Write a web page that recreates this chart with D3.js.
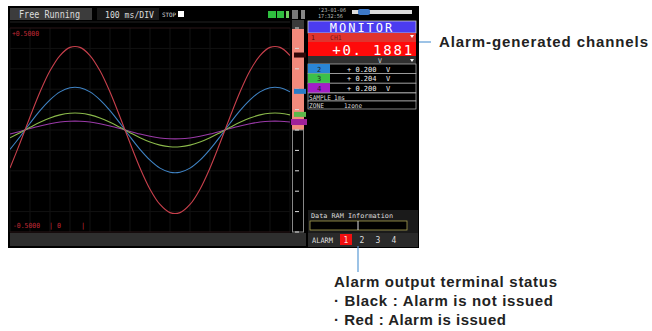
<!DOCTYPE html>
<head>
  <meta charset="utf-8">
  <script src="https://d3js.org/d3.v7.min.js"></script>
  <style>
    body { margin:0; background:#fff; }
    text { font-family: "DejaVu Sans Mono", monospace; white-space: pre; }
    .note { font-family: "Liberation Sans", Arial, sans-serif; font-weight:bold; fill:#222; }
  </style>
</head>
<body>
<script>

/* Data */
/* ==== */

// time in ms (100 ms/DIV, 14 divisions on screen)
var times = [0, 50, 100, 150, 200, 250, 300, 350, 400, 450, 500, 550, 600, 650, 700,
             750, 800, 850, 900, 950, 1000, 1050, 1100, 1150, 1200, 1250, 1300, 1350, 1400];

// waveform values in V
var ch1 = [-0.186, -0.064, 0.064, 0.186, 0.290, 0.365, 0.405, 0.405, 0.365, 0.290, 0.186, 0.064,
           -0.064, -0.186, -0.290, -0.365, -0.405, -0.405, -0.365, -0.290, -0.186, -0.064,
           0.064, 0.186, 0.290, 0.365, 0.405, 0.405, 0.365];
var ch2 = [-0.095, -0.033, 0.033, 0.095, 0.148, 0.187, 0.207, 0.207, 0.187, 0.148, 0.095, 0.033,
           -0.033, -0.095, -0.148, -0.187, -0.207, -0.207, -0.187, -0.148, -0.095, -0.033,
           0.033, 0.095, 0.148, 0.187, 0.207, 0.207, 0.187];
var ch3 = [-0.038, -0.013, 0.013, 0.038, 0.059, 0.074, 0.082, 0.082, 0.074, 0.059, 0.038, 0.013,
           -0.013, -0.038, -0.059, -0.074, -0.082, -0.082, -0.074, -0.059, -0.038, -0.013,
           0.013, 0.038, 0.059, 0.074, 0.082, 0.082, 0.074];
var ch4 = [-0.020, -0.007, 0.007, 0.020, 0.031, 0.039, 0.043, 0.043, 0.039, 0.031, 0.020, 0.007,
           -0.007, -0.020, -0.031, -0.039, -0.043, -0.043, -0.039, -0.031, -0.020, -0.007,
           0.007, 0.020, 0.031, 0.039, 0.043, 0.043, 0.039];

var series = [ch4, ch3, ch2, ch1];
var seriesColors = ['#9a3aa8', '#8ab84a', '#3f83c4', '#c8404c'];

// monitor panel
var monitorChannels = ['2', '3', '4'];
var monitorReadings = ['+ 0.200', '+ 0.204', '+ 0.200'];
var monitorColors = ['#2a86d6', '#3cc04a', '#a41ec8'];

// alarm output terminals
var alarmTerminals = ['1', '2', '3', '4'];
var alarmIssued = [true, false, false, false];


/* Set up */
/* ====== */

var width = 652,
    height = 331;

var svg = d3.select('body')
  .append('svg')
    .attr('width', width)
    .attr('height', height);

var x = d3.scaleLinear().domain([0, 1400]).range([10, 290]);
var y = d3.scaleLinear().domain([-0.5, 0.5]).range([232, 28]);

function lcdText(tx, ty, str, size, color, len) {
  var t = svg.append('text').attr('x', tx).attr('y', ty)
      .attr('fill', color).attr('font-size', size).text(str);
  if (len) t.attr('textLength', len).attr('lengthAdjust', 'spacingAndGlyphs');
  return t;
}

// screen background
svg.append('rect')
    .attr('x', 8).attr('y', 6)
    .attr('width', 411).attr('height', 242)
    .attr('fill', '#000');


/* Header */
/* ====== */

svg.append('rect').attr('x', 10).attr('y', 8).attr('width', 82).attr('height', 12).attr('fill', '#3c3c3c');
lcdText(19, 17.5, 'Free Running', 10, '#ddd', 61);

svg.append('rect').attr('x', 97).attr('y', 8).attr('width', 62).attr('height', 12).attr('fill', '#1a1a1a');
lcdText(105, 17.5, '100 ms/DIV', 9, '#ddd', 49);
lcdText(162, 17, 'STOP', 6, '#ddd', 14);
svg.append('rect').attr('x', 178).attr('y', 11).attr('width', 6).attr('height', 6).attr('fill', '#fff');

// status icons
[[268, 8, '#2fbf3f'], [277, 7, '#2fbf3f'], [286, 3, '#6fcf5f']].forEach(function(d) {
  svg.append('rect').attr('x', d[0]).attr('y', 11).attr('width', d[1]).attr('height', 7).attr('fill', d[2]);
});
svg.append('rect').attr('x', 292).attr('y', 10).attr('width', 6).attr('height', 9).attr('fill', '#777');
svg.append('rect').attr('x', 301).attr('y', 10).attr('width', 4).attr('height', 9).attr('fill', '#888');

// date / time and scroll bar
lcdText(318, 12, "'23-01-06", 5.5, '#bbb', 28);
lcdText(318, 18, '17:32:56', 5.5, '#bbb', 25);
svg.append('rect').attr('x', 352).attr('y', 10).attr('width', 60).attr('height', 4).attr('fill', '#ddd');
svg.append('rect').attr('x', 358).attr('y', 9).attr('width', 12).attr('height', 6).attr('rx', 2).attr('fill', '#3c78c8');


/* Plot area */
/* ========= */

var grid = svg.append('g');

grid.selectAll('.vgrid')
    .data(d3.range(0, 1401, 100))
  .enter().append('line')
    .attr('x1', function(d) { return x(d); })
    .attr('x2', function(d) { return x(d); })
    .attr('y1', y(0.5)).attr('y2', y(-0.5))
    .attr('stroke', '#121212');

grid.selectAll('.hgrid')
    .data(y.ticks(10))
  .enter().append('line')
    .attr('x1', x(0)).attr('x2', x(1400))
    .attr('y1', function(d) { return y(d); })
    .attr('y2', function(d) { return y(d); })
    .attr('stroke', function(d) { return Math.abs(d) === 0.5 ? '#2a1618' : '#121212'; });

svg.append('line').attr('x1', 10).attr('x2', 290).attr('y1', 22).attr('y2', 22).attr('stroke', '#222');

lcdText(12, 36, '+0.5000', 7, '#c02a36', 27);
lcdText(13, 228, '-0.5000', 7, '#c02a36', 27);
lcdText(49, 228, '| 0', 7, '#c02a36', 12);
lcdText(81, 228, '|', 7, '#c02a36');

svg.append('clipPath').attr('id', 'plotclip')
  .append('rect').attr('x', 10).attr('y', 23).attr('width', 280).attr('height', 210);

var line = d3.line()
    .x(function(d, i) { return x(times[i]); })
    .y(function(d) { return y(d); })
    .curve(d3.curveCatmullRom);

svg.append('g').attr('clip-path', 'url(#plotclip)')
  .selectAll('.wave')
    .data(series)
  .enter().append('path')
    .attr('d', line)
    .attr('fill', 'none')
    .attr('stroke', function(d, i) { return seriesColors[i]; })
    .attr('stroke-width', 1.1);

// bottom gray band
svg.append('rect').attr('x', 10).attr('y', 233).attr('width', 296).attr('height', 13).attr('fill', '#2e2e2e');


/* Scale bar */
/* ========= */

svg.append('rect').attr('x', 292).attr('y', 20).attr('width', 12).attr('height', 9).attr('fill', '#3a3a3a');
svg.append('rect').attr('x', 292).attr('y', 29).attr('width', 12).attr('height', y(0) - 29).attr('fill', '#f28a7c');
svg.append('rect').attr('x', 292.5).attr('y', y(0)).attr('width', 11).attr('height', y(-0.5) - y(0))
    .attr('fill', 'none').attr('stroke', '#888');
svg.selectAll('.btick')
    .data(y.ticks(10))
  .enter().append('line')
    .attr('x1', 295).attr('x2', 299)
    .attr('y1', function(d) { return y(d); })
    .attr('y2', function(d) { return y(d); })
    .attr('stroke', '#ddd');

// channel markers at their current values
var markerColors = ['#300808', '#2a7cc8', '#5cb84a', '#a0209a'];
var markerValues = [ch1[ch1.length - 1], ch2[ch2.length - 1], ch3[ch3.length - 1], ch4[ch4.length - 1]];
markerValues.forEach(function(v, i) {
  svg.append('rect').attr('x', i === 3 ? 291 : 294).attr('y', y(v) - 3)
      .attr('width', i === 3 ? 16 : 12).attr('height', i === 3 ? 6 : 5)
      .attr('fill', markerColors[i]);
});


/* Monitor panel */
/* ============= */

var px = 308, pw = 108;

svg.append('rect').attr('x', px).attr('y', 21).attr('width', pw).attr('height', 12)
    .attr('fill', '#4b3cf0').attr('stroke', '#ccc').attr('stroke-width', 0.8);
svg.append('text').attr('x', px + pw / 2).attr('y', 31.5).attr('text-anchor', 'middle')
    .attr('fill', '#fff').attr('font-size', 12).attr('letter-spacing', 2).text('MONITOR');

svg.append('rect').attr('x', px).attr('y', 33).attr('width', pw).attr('height', 9).attr('fill', '#e0342e');
lcdText(px + 3, 40, '1', 6.5, '#5a0c0c');
lcdText(px + 22, 40, 'CH1', 6.5, '#7a1a10');
svg.append('path').attr('d', 'M410,35 l4,0 l-2,3 z').attr('fill', '#fff');

svg.append('rect').attr('x', px).attr('y', 42).attr('width', pw).attr('height', 14).attr('fill', '#ff0a0a');
svg.append('text').attr('x', px + pw - 2).attr('y', 55).attr('text-anchor', 'end')
    .attr('fill', '#fff').attr('font-size', 14).attr('letter-spacing', 1.8).text('+0. 1881');

svg.append('rect').attr('x', px).attr('y', 56).attr('width', pw).attr('height', 8).attr('fill', '#303030');
lcdText(px + 70, 63, 'V', 6.5, '#ddd');
svg.append('path').attr('d', 'M410,59 l4,0 l-2,3 z').attr('fill', '#fff');

var rows = svg.selectAll('.mrow')
    .data(monitorChannels)
  .enter().append('g')
    .attr('transform', function(d, i) { return 'translate(' + px + ',' + (64 + i * 9.6) + ')'; });

rows.append('rect').attr('width', pw).attr('height', 9.6)
    .attr('fill', '#000').attr('stroke', '#bbb').attr('stroke-width', 0.7);
rows.append('rect').attr('width', 22).attr('height', 9.6)
    .attr('fill', function(d, i) { return monitorColors[i]; });
rows.append('text').attr('x', 9).attr('y', 7.5).attr('fill', '#222').attr('font-size', 7)
    .text(function(d) { return d; });
rows.append('text').attr('x', 39).attr('y', 7.5).attr('fill', '#eee').attr('font-size', 7)
    .text(function(d, i) { return monitorReadings[i]; });
rows.append('text').attr('x', 78).attr('y', 7.5).attr('fill', '#eee').attr('font-size', 7)
    .text('V');

svg.append('rect').attr('x', px).attr('y', 93).attr('width', pw).attr('height', 8)
    .attr('fill', '#000').attr('stroke', '#bbb').attr('stroke-width', 0.7);
lcdText(px + 1, 99.5, 'SAMPLE', 6.5, '#ddd', 22);
lcdText(px + 26, 99.5, '1ms', 6.5, '#ddd', 11);
svg.append('rect').attr('x', px).attr('y', 101).attr('width', pw).attr('height', 8)
    .attr('fill', '#000').attr('stroke', '#bbb').attr('stroke-width', 0.7);
lcdText(px + 1, 107.5, 'ZONE', 6.5, '#ddd', 15);
lcdText(px + 36, 107.5, '1zone', 6.5, '#ddd', 18);


/* Data RAM and alarm */
/* ================== */

svg.append('rect').attr('x', 308).attr('y', 210).attr('width', 110).attr('height', 23).attr('fill', '#1a1a1a');
lcdText(311, 218, 'Data RAM Information', 6.5, '#ddd', 82);
svg.append('rect').attr('x', 310).attr('y', 221).attr('width', 97).attr('height', 9)
    .attr('fill', '#000').attr('stroke', '#a8a050').attr('stroke-width', 0.8);
svg.append('line').attr('x1', 358).attr('x2', 358).attr('y1', 221).attr('y2', 230).attr('stroke', '#ddd');

svg.append('rect').attr('x', 308).attr('y', 233).attr('width', 110).attr('height', 14).attr('fill', '#2a2a2a');
lcdText(312, 243, 'ALARM', 7.5, '#ddd', 21);

svg.selectAll('.alarm')
    .data(alarmTerminals)
  .enter().append('g')
    .each(function(d, i) {
      var g = d3.select(this), cx = 346 + i * 16;
      if (alarmIssued[i]) {
        g.append('rect').attr('x', cx - 6).attr('y', 234).attr('width', 12).attr('height', 11).attr('fill', '#f01010');
      }
      g.append('text').attr('x', cx).attr('y', 243).attr('text-anchor', 'middle')
          .attr('fill', alarmIssued[i] ? '#ffdede' : '#ddd').attr('font-size', 8).text(d);
    });


/* Call-outs */
/* ========= */

svg.append('line').attr('x1', 419).attr('x2', 431).attr('y1', 42).attr('y2', 42)
    .attr('stroke', '#5b9bd5').attr('stroke-width', 1.2);
svg.append('text').attr('class', 'note').attr('x', 439).attr('y', 47).attr('font-size', 15)
    .attr('textLength', 209).attr('lengthAdjust', 'spacing')
    .text('Alarm-generated channels');

svg.append('line').attr('x1', 358).attr('x2', 358).attr('y1', 246).attr('y2', 272)
    .attr('stroke', '#5b9bd5').attr('stroke-width', 1.2);

var notes = ['Alarm output terminal status', '\u00b7 Black : Alarm is not issued', '\u00b7 Red : Alarm is issued'];
var noteLengths = [223, 219, 172];
svg.selectAll('.notes')
    .data(notes)
  .enter().append('text')
    .attr('class', 'note')
    .attr('x', 334)
    .attr('y', function(d, i) { return 287 + i * 19; })
    .attr('font-size', 15)
    .attr('textLength', function(d, i) { return noteLengths[i]; })
    .attr('lengthAdjust', 'spacing')
    .text(function(d) { return d; });

</script>
</body>
